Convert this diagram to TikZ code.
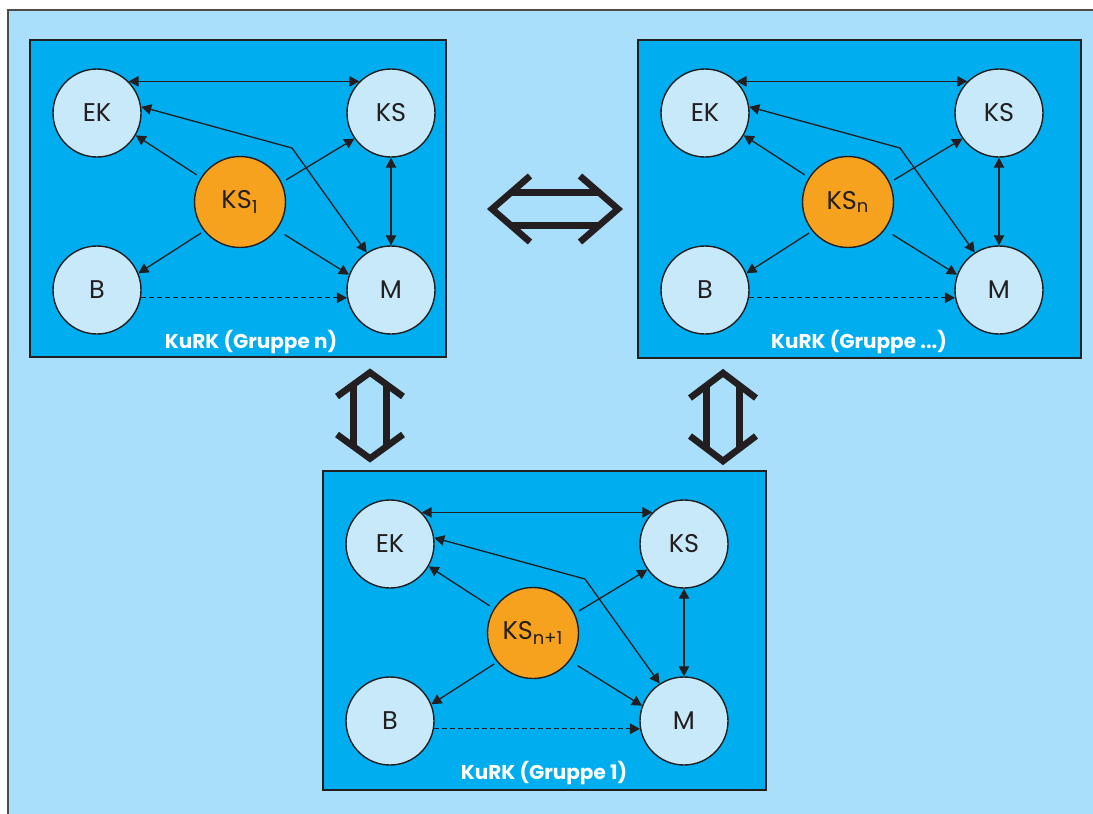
\documentclass[tikz,border=0pt]{standalone}
\usepackage{fontspec}
\setmainfont{Poppins}
\usetikzlibrary{arrows.meta,positioning}

\definecolor{paleblue}{HTML}{A9DFFA}
\definecolor{boxblue}{HTML}{00AEEF}
\definecolor{nodeblue}{HTML}{C8E9FA}
\definecolor{ksorange}{HTML}{F7A21E}
\definecolor{inkline}{HTML}{231F20}

\begin{document}
\begin{tikzpicture}[x=0.5pt,y=-0.5pt,
    >={Triangle[length=5pt,width=5.2pt]},
    role/.style={circle,draw=inkline,line width=0.7pt,fill=nodeblue,
      minimum size=44pt,inner sep=0pt,text=inkline,
      font=\fontsize{12.8}{14}\selectfont},
    core/.style={role,fill=ksorange,minimum size=45.5pt},
    group/.style={draw=inkline,line width=0.8pt,fill=boxblue},
    link/.style={draw=inkline,line width=0.65pt},
    grouplabel/.style={text=white,font=\bfseries\fontsize{10}{12}\selectfont},
    swap/.style={draw=inkline,line width=3.3pt,line join=miter}
  ]
  \useasboundingbox (0,0) rectangle (1093,814);
  \fill[white] (0,0) rectangle (1093,814);
  \fill[paleblue] (8,10) rectangle (1093,814);
  \draw[inkline!80,line width=1pt] (8,814) -- (8,10) -- (1093,10);

  % the three groups, same inner layout
  \foreach \gx/\gy/\gw/\gh/\sub/\grp/\g in {30/40/416/317/1/n/a,
      638/40/443/318/n/.{}.{}./b, 323/471/443/319/n+1/1/c} {
    \begin{scope}[shift={(\gx,\gy)}]
      \draw[group] (0,0) rectangle (\gw,\gh);
      \node[role] (\g-ek) at (67,73) {EK};
      \node[role] (\g-ks) at (361,73) {KS};
      \node[role] (\g-b) at (67,250) {B};
      \node[role] (\g-m) at (361,250) {M};
      \node[core] (\g-c) at (210,162) {KS\textsubscript{\sub}};
      \node[grouplabel] (\g-name) at (221,302) {KuRK (Gruppe \grp)};
      \coordinate (\g-bend) at (262,108);

      \draw[link,<->] (\g-ek.45) -- (\g-ks.135);
      \draw[link,<->] (\g-ks) -- (\g-m);
      \draw[link,->,shorten <=2.5pt] (\g-c.148) -- (\g-ek.330);
      \draw[link,->,shorten <=2.5pt] (\g-c.25) -- (\g-ks.215);
      \draw[link,->,shorten <=1.7pt] (\g-c.219) -- (\g-b.22);
      \draw[link,->,shorten <=4.5pt] (\g-c.323) -- (\g-m.160);
      \draw[link,->,dash pattern=on 2.5pt off 1.5pt] (\g-b.350) -- (\g-m.190);
      \draw[link,<->] (\g-ek.8) -- (\g-bend) -- (\g-m.123);
    \end{scope}
  }

  % hollow double arrows between the groups
  \foreach \ax/\ay/\rot/\len/\head in {555/209/0/63/38,
      370/415.5/90/43/24, 723/417/90/44/25} {
    \begin{scope}[shift={(\ax,\ay)},rotate=\rot]
      \draw[swap] (-\len+\head,-33) -- (-\len,0) -- (-\len+\head,33);
      \draw[swap] (\len-\head,-33) -- (\len,0) -- (\len-\head,33);
      \draw[swap] (-\len+\head/2,-16.5) -- (\len-\head/2,-16.5);
      \draw[swap] (-\len+\head/2,16.5) -- (\len-\head/2,16.5);
    \end{scope}
  }
\end{tikzpicture}
\end{document}
